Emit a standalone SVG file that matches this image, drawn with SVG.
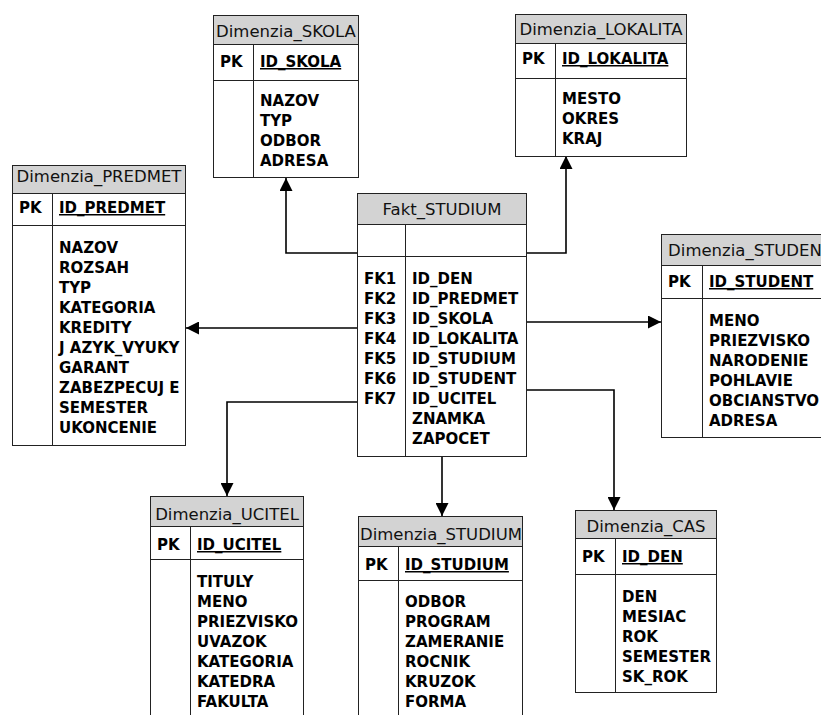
<svg xmlns="http://www.w3.org/2000/svg" width="821" height="715" viewBox="0 0 821 715">
<defs>
<style>
.box{fill:#fff;stroke:#222;stroke-width:1}
.hdr{fill:#d3d3d3;stroke:#222;stroke-width:1}
.ln{stroke:#222;stroke-width:1;fill:none}
.title{font-family:"DejaVu Sans",sans-serif;font-size:16.5px;fill:#111;text-anchor:middle}
.f{font-family:"DejaVu Sans",sans-serif;font-size:15px;font-weight:bold;fill:#000}
.pk{text-decoration:underline}
.con{stroke:#000;stroke-width:1.6;fill:none}
</style>
<marker id="arr" viewBox="0 0 13 13" refX="13" refY="6.5" markerWidth="13" markerHeight="13" markerUnits="userSpaceOnUse" orient="auto">
<path d="M0,0 L13,6.5 L0,13 z" fill="#000"/>
</marker>
</defs>
<rect width="821" height="715" fill="#fff"/>

<g id="connectors">
<polyline class="con" points="357,253 286,253 286,178" marker-end="url(#arr)"/>
<polyline class="con" points="527,253 566,253 566,156" marker-end="url(#arr)"/>
<polyline class="con" points="357,328 186,328" marker-end="url(#arr)"/>
<polyline class="con" points="527,322 661,322" marker-end="url(#arr)"/>
<polyline class="con" points="357,402 227,402 227,496" marker-end="url(#arr)"/>
<polyline class="con" points="442,456 442,516" marker-end="url(#arr)"/>
<polyline class="con" points="527,390 614,390 614,510" marker-end="url(#arr)"/>
</g>

<g id="Dimenzia_SKOLA">
<rect class="box" x="213.5" y="15.5" width="145" height="162"/>
<rect class="hdr" x="213.5" y="15.5" width="145" height="29"/>
<line class="ln" x1="213.5" y1="80.5" x2="358.5" y2="80.5"/>
<line class="ln" x1="253.5" y1="44.5" x2="253.5" y2="177.5"/>
<text class="title" x="286" y="37">Dimenzia_SKOLA</text>
<text class="f" x="220" y="67">PK</text>
<text class="f pk" x="260" y="67">ID_SKOLA</text>
<text class="f" x="260" y="106">NAZOV</text>
<text class="f" x="260" y="126">TYP</text>
<text class="f" x="260" y="146">ODBOR</text>
<text class="f" x="260" y="166">ADRESA</text>
</g>

<g id="Dimenzia_LOKALITA">
<rect class="box" x="515.5" y="14.5" width="171" height="142"/>
<rect class="hdr" x="515.5" y="14.5" width="171" height="29"/>
<line class="ln" x1="515.5" y1="78.5" x2="686.5" y2="78.5"/>
<line class="ln" x1="555.5" y1="43.5" x2="555.5" y2="156.5"/>
<text class="title" x="601" y="35">Dimenzia_LOKALITA</text>
<text class="f" x="522" y="64">PK</text>
<text class="f pk" x="562" y="64">ID_LOKALITA</text>
<text class="f" x="562" y="104">MESTO</text>
<text class="f" x="562" y="124">OKRES</text>
<text class="f" x="562" y="144">KRAJ</text>
</g>

<g id="Dimenzia_PREDMET">
<rect class="box" x="12.5" y="165.5" width="173" height="280"/>
<rect class="hdr" x="12.5" y="165.5" width="173" height="28"/>
<line class="ln" x1="12.5" y1="225.5" x2="185.5" y2="225.5"/>
<line class="ln" x1="52.5" y1="193.5" x2="52.5" y2="445.5"/>
<text class="title" x="99" y="182">Dimenzia_PREDMET</text>
<text class="f" x="19" y="213">PK</text>
<text class="f pk" x="59" y="213">ID_PREDMET</text>
<text class="f" x="59" y="253">NAZOV</text>
<text class="f" x="59" y="273">ROZSAH</text>
<text class="f" x="59" y="293">TYP</text>
<text class="f" x="59" y="313">KATEGORIA</text>
<text class="f" x="59" y="333">KREDITY</text>
<text class="f" x="59" y="353">J AZYK_VYUKY</text>
<text class="f" x="59" y="373">GARANT</text>
<text class="f" x="59" y="393">ZABEZPECUJ E</text>
<text class="f" x="59" y="413">SEMESTER</text>
<text class="f" x="59" y="433">UKONCENIE</text>
</g>

<g id="Fakt_STUDIUM">
<rect class="box" x="357.5" y="193.5" width="169" height="263"/>
<rect class="hdr" x="357.5" y="193.5" width="169" height="31"/>
<line class="ln" x1="357.5" y1="256.5" x2="526.5" y2="256.5"/>
<line class="ln" x1="405.5" y1="224.5" x2="405.5" y2="456.5"/>
<text class="title" x="442" y="215">Fakt_STUDIUM</text>
<text class="f" x="364" y="284">FK1</text>
<text class="f" x="364" y="304">FK2</text>
<text class="f" x="364" y="324">FK3</text>
<text class="f" x="364" y="344">FK4</text>
<text class="f" x="364" y="364">FK5</text>
<text class="f" x="364" y="384">FK6</text>
<text class="f" x="364" y="404">FK7</text>
<text class="f" x="412" y="284">ID_DEN</text>
<text class="f" x="412" y="304">ID_PREDMET</text>
<text class="f" x="412" y="324">ID_SKOLA</text>
<text class="f" x="412" y="344">ID_LOKALITA</text>
<text class="f" x="412" y="364">ID_STUDIUM</text>
<text class="f" x="412" y="384">ID_STUDENT</text>
<text class="f" x="412" y="404">ID_UCITEL</text>
<text class="f" x="412" y="424">ZNAMKA</text>
<text class="f" x="412" y="444">ZAPOCET</text>
</g>

<g id="Dimenzia_STUDENT">
<rect class="box" x="661.5" y="234.5" width="178" height="203"/>
<rect class="hdr" x="661.5" y="234.5" width="178" height="31"/>
<line class="ln" x1="661.5" y1="298.5" x2="839.5" y2="298.5"/>
<line class="ln" x1="702.5" y1="265.5" x2="702.5" y2="437.5"/>
<text class="title" x="750" y="256">Dimenzia_STUDENT</text>
<text class="f" x="668" y="287">PK</text>
<text class="f pk" x="709" y="287">ID_STUDENT</text>
<text class="f" x="709" y="326">MENO</text>
<text class="f" x="709" y="346">PRIEZVISKO</text>
<text class="f" x="709" y="366">NARODENIE</text>
<text class="f" x="709" y="386">POHLAVIE</text>
<text class="f" x="709" y="406">OBCIANSTVO</text>
<text class="f" x="709" y="426">ADRESA</text>
</g>

<g id="Dimenzia_UCITEL">
<rect class="box" x="150.5" y="496.5" width="153" height="230"/>
<rect class="hdr" x="150.5" y="496.5" width="153" height="30"/>
<line class="ln" x1="150.5" y1="559.5" x2="303.5" y2="559.5"/>
<line class="ln" x1="190.5" y1="526.5" x2="190.5" y2="726"/>
<text class="title" x="227" y="520">Dimenzia_UCITEL</text>
<text class="f" x="157" y="550">PK</text>
<text class="f pk" x="197" y="550">ID_UCITEL</text>
<text class="f" x="197" y="587">TITULY</text>
<text class="f" x="197" y="607">MENO</text>
<text class="f" x="197" y="627">PRIEZVISKO</text>
<text class="f" x="197" y="647">UVAZOK</text>
<text class="f" x="197" y="667">KATEGORIA</text>
<text class="f" x="197" y="687">KATEDRA</text>
<text class="f" x="197" y="707">FAKULTA</text>
</g>

<g id="Dimenzia_STUDIUM">
<rect class="box" x="358.5" y="516.5" width="164" height="210"/>
<rect class="hdr" x="358.5" y="516.5" width="164" height="30"/>
<line class="ln" x1="358.5" y1="580.5" x2="522.5" y2="580.5"/>
<line class="ln" x1="398.5" y1="546.5" x2="398.5" y2="726"/>
<text class="title" x="441" y="540">Dimenzia_STUDIUM</text>
<text class="f" x="365" y="570">PK</text>
<text class="f pk" x="405" y="570">ID_STUDIUM</text>
<text class="f" x="405" y="607">ODBOR</text>
<text class="f" x="405" y="627">PROGRAM</text>
<text class="f" x="405" y="647">ZAMERANIE</text>
<text class="f" x="405" y="667">ROCNIK</text>
<text class="f" x="405" y="687">KRUZOK</text>
<text class="f" x="405" y="707">FORMA</text>
</g>

<g id="Dimenzia_CAS">
<rect class="box" x="575.5" y="510.5" width="141" height="182"/>
<rect class="hdr" x="575.5" y="510.5" width="141" height="28"/>
<line class="ln" x1="575.5" y1="574.5" x2="716.5" y2="574.5"/>
<line class="ln" x1="615.5" y1="538.5" x2="615.5" y2="692.5"/>
<text class="title" x="646" y="532">Dimenzia_CAS</text>
<text class="f" x="582" y="562">PK</text>
<text class="f pk" x="622" y="562">ID_DEN</text>
<text class="f" x="622" y="602">DEN</text>
<text class="f" x="622" y="622">MESIAC</text>
<text class="f" x="622" y="642">ROK</text>
<text class="f" x="622" y="662">SEMESTER</text>
<text class="f" x="622" y="682">SK_ROK</text>
</g>
</svg>
